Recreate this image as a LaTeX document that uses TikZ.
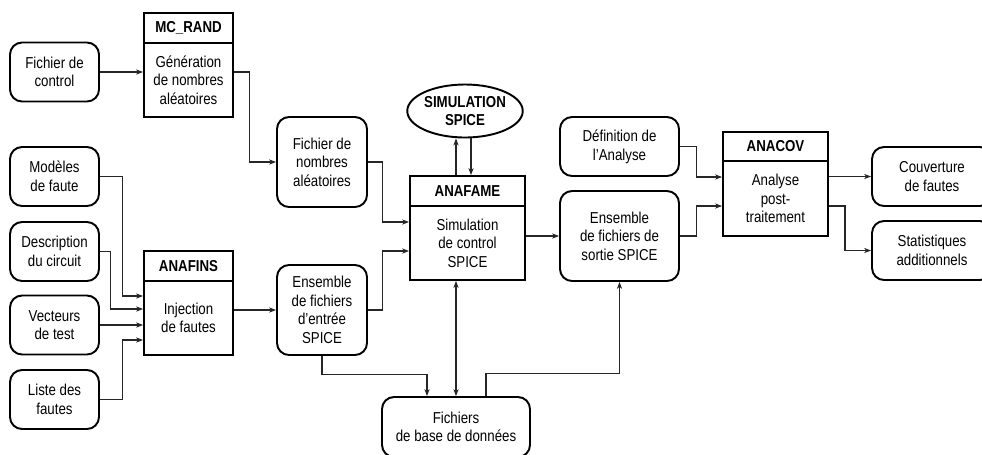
\documentclass[tikz,border=0pt]{standalone}
\usepackage{fontspec}
\setmainfont{Liberation Sans}[FakeStretch=0.84]
\usetikzlibrary{arrows.meta,calc,shapes.geometric}
\begin{document}
\begin{tikzpicture}[x=0.02cm,y=-0.02cm,
  font=\fontsize{9}{10.6}\selectfont,
  rbox/.style={draw, line width=1.1pt, rounded corners=0.24cm, align=center, inner sep=0pt},
  hbox/.style={draw, line width=1.1pt, align=center, inner sep=0pt, font=\fontsize{9}{10.6}\selectfont\bfseries},
  bbox/.style={draw, line width=1.1pt, align=center, inner sep=0pt},
  arr/.style={-{Stealth[length=4pt,width=3pt]}, line width=0.6pt, color=black!85},
  darr/.style={{Stealth[length=4pt,width=3pt]}-{Stealth[length=4pt,width=3pt]}, line width=0.6pt, color=black!85}]
\useasboundingbox (0,0) rectangle (982,454);
\clip (0,0) rectangle (982,454);
% left inputs
\node[rbox, minimum width=1.78cm, minimum height=1.18cm] (ctrl) at (54.5,72) {Fichier de\\control};
\node[rbox, minimum width=1.78cm, minimum height=1.18cm] (mod) at (54.5,176.5) {Modèles\\de faute};
\node[rbox, minimum width=1.78cm, minimum height=1.18cm] (desc) at (54.5,251.5) {Description\\du circuit};
\node[rbox, minimum width=1.78cm, minimum height=1.18cm] (vec) at (54.5,325) {Vecteurs\\de test};
\node[rbox, minimum width=1.78cm, minimum height=1.18cm] (liste) at (54.5,399.5) {Liste des\\fautes};
% MC_RAND
\node[hbox, minimum width=1.78cm, minimum height=0.6cm] (mcrandH) at (188.5,28) {MC\_RAND};
\node[bbox, minimum width=1.78cm, minimum height=1.48cm] (mcrand) at (188.5,80) {Génération\\de nombres\\aléatoires};
% ANAFINS
\node[hbox, minimum width=1.78cm, minimum height=0.6cm] (anafinsH) at (188.5,266) {ANAFINS};
\node[bbox, minimum width=1.78cm, minimum height=1.48cm] (anafins) at (188.5,318) {Injection\\de fautes};
% middle files
\node[rbox, minimum width=1.8cm, minimum height=1.8cm] (nombres) at (322,162) {Fichier de\\nombres\\aléatoires};
\node[rbox, minimum width=1.8cm, minimum height=1.8cm] (entree) at (322,310) {Ensemble\\de fichiers\\d’entrée\\SPICE};
% ANAFAME
\node[hbox, minimum width=2.3cm, minimum height=0.6cm] (anafameH) at (467.5,191) {ANAFAME};
\node[bbox, minimum width=2.3cm, minimum height=1.48cm] (anafame) at (467.5,243) {Simulation\\de control\\SPICE};
\node[ellipse, draw, line width=1.1pt, inner sep=0pt, minimum width=2.1cm, minimum height=1.06cm, align=center, font=\fontsize{9}{10.6}\selectfont\bfseries] (sim) at (465,111) {SIMULATION\\SPICE};
% right side
\node[rbox, minimum width=2.38cm, minimum height=1.18cm] (def) at (619.5,146.5) {Définition de\\l’Analyse};
\node[rbox, minimum width=2.38cm, minimum height=1.8cm] (sortie) at (619.5,236) {Ensemble\\de fichiers de\\sortie SPICE};
\node[rbox, minimum width=2.96cm, minimum height=1.2cm] (base) at (456,427) {Fichiers\\de base de données};
\node[hbox, minimum width=2.1cm, minimum height=0.58cm] (anacovH) at (775.5,146.5) {ANACOV};
\node[bbox, minimum width=2.1cm, minimum height=1.5cm] (anacov) at (775.5,198.5) {Analyse\\post-\\traitement};
\node[rbox, minimum width=2.4cm, minimum height=1.18cm] (couv) at (932,176.5) {Couverture\\de fautes};
\node[rbox, minimum width=2.4cm, minimum height=1.18cm] (stat) at (932,250.5) {Statistiques\\additionnels};
% connectors
\draw[arr] (ctrl.east) -- (ctrl.east -| mcrand.west);
\draw[arr] (mcrand.east |- ctrl.east) -- ++(16,0) |- (nombres.west);
\draw[arr] (nombres.east) -- ++(15,0) |- ($(anafame.west)+(0,-21)$);
\draw[arr] (entree.east) -- ++(15,0) |- ($(anafame.west)+(0,8)$);
\coordinate (up) at ($(anafameH.north)+(-11.5,0)$);
\coordinate (dn) at ($(anafameH.north)+(3.5,0)$);
\draw[arr] (up) -- (up |- sim.south);
\draw[arr] (dn |- sim.south) -- (dn);
\draw[arr] (anafame.east |- sortie.west) -- (sortie.west);
\draw[darr] (anafame.south -| base.north) -- (base.north);
\draw[arr] (entree.south) -- ++(0,19) -| ($(base.north)+(-29,0)$);
\draw[arr] ($(base.north)+(30,0)$) -- ++(0,-23) -| (sortie.south);
\draw[arr] (def.east) -- ++(17,0) |- ($(anacov.west)+(0,-21.5)$);
\draw[arr] (sortie.east) -- ++(17,0) |- ($(anacov.west)+(0,7.5)$);
\draw[arr] (couv.west -| anacov.east) -- (couv.west);
\draw[arr] ($(anacov.east)+(0,7.5)$) -- ++(16,0) |- (stat.west);
\draw[arr] (mod.east) -- ++(23,0) |- ($(anafins.west)+(0,-22)$);
\draw[arr] (desc.east) -- ++(11,0) |- ($(anafins.west)+(0,-9)$);
\draw[arr] (vec.east) -- (vec.east -| anafins.west);
\draw[arr] (liste.east) -- ++(23,0) |- ($(anafins.west)+(0,22)$);
\draw[arr] (entree.west -| anafins.east) -- (entree.west);
\end{tikzpicture}
\end{document}
